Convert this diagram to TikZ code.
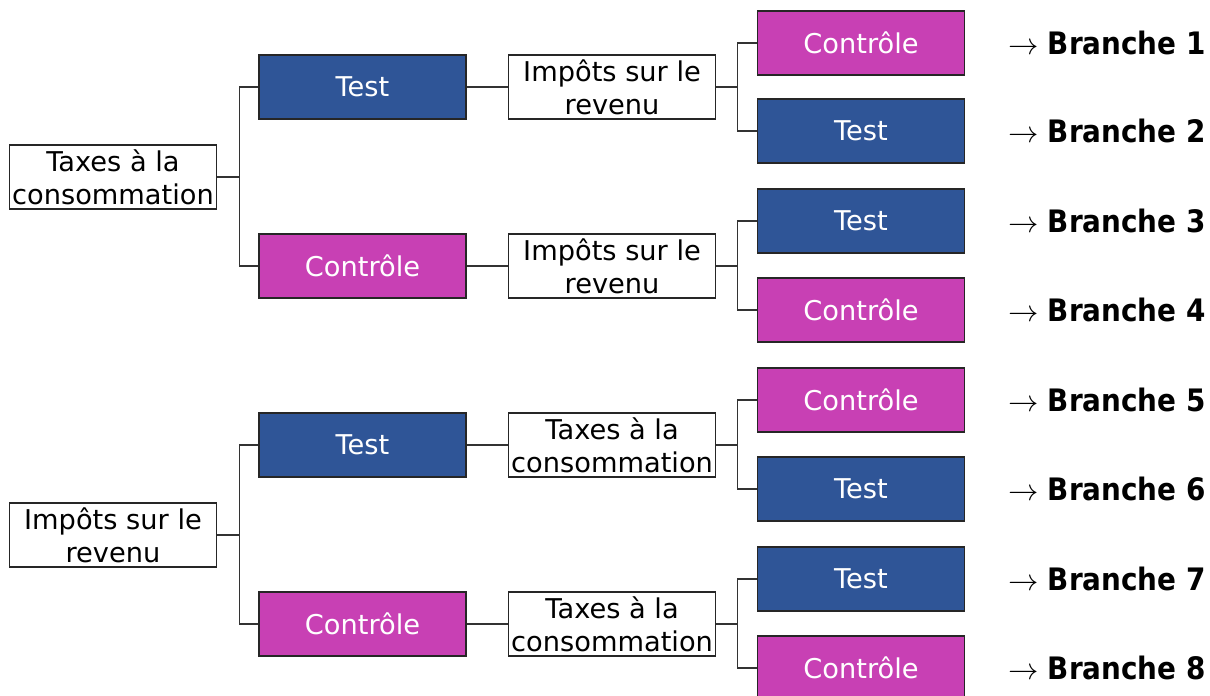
\documentclass[tikz,border=0pt]{standalone}
\usepackage{fontspec}
\setmainfont{DejaVu Sans}
\newfontfamily\branchfont{DejaVu Sans Condensed}
\usepackage{xcolor}
\usepackage{tikz}
\usetikzlibrary{positioning}
\definecolor{testblue}{HTML}{2F5597}
\definecolor{ctrlpink}{HTML}{C840B4}
\definecolor{edge}{HTML}{333333}

\begin{document}
\begin{tikzpicture}[
    box/.style={rectangle, draw=black!85, line width=0.9pt, minimum width=4.14cm,
                minimum height=1.27cm, inner sep=1pt, align=center,
                font=\fontsize{15.5}{18.6}\selectfont},
    testbox/.style={box, fill=testblue, text=white},
    ctrlbox/.style={box, fill=ctrlpink, text=white},
    factbox/.style={box, fill=white, text=black},
    branch/.style={anchor=west, inner sep=0pt, font=\branchfont\fontsize{17.6}{20}\selectfont},
    link/.style={draw=edge, line width=0.85pt},
    node distance=0.82cm,
]
\useasboundingbox (0,0) rectangle (24.2,13.92);

% first order: consumption taxes
\node[factbox] (rootA) at (2.26,10.38) {Taxes à la\\consommation};
\node[testbox] (aT) at (7.25,12.18) {Test};
\node[ctrlbox] (aC) at (7.25,8.60) {Contrôle};
\node[factbox,right=of aT] (aTf) {Impôts sur le\\revenu};
\node[factbox,right=of aC] (aCf) {Impôts sur le\\revenu};

% second order: income tax
\node[factbox] (rootB) at (2.26,3.22) {Impôts sur le\\revenu};
\node[testbox] (bT) at (7.25,5.02) {Test};
\node[ctrlbox] (bC) at (7.25,1.44) {Contrôle};
\node[factbox,right=of bT] (bTf) {Taxes à la\\consommation};
\node[factbox,right=of bC] (bCf) {Taxes à la\\consommation};

% leaves
\node[ctrlbox] (l1) at (17.22,13.06) {Contrôle};
\node[testbox] (l2) at (17.22,11.30) {Test};
\node[testbox] (l3) at (17.22,9.50) {Test};
\node[ctrlbox] (l4) at (17.22,7.72) {Contrôle};
\node[ctrlbox] (l5) at (17.22,5.92) {Contrôle};
\node[testbox] (l6) at (17.22,4.14) {Test};
\node[testbox] (l7) at (17.22,2.34) {Test};
\node[ctrlbox] (l8) at (17.22,0.56) {Contrôle};

\foreach \i in {1,...,8}
  \node[branch,right=0.86cm of l\i] (b\i) {$\rightarrow$ \textbf{Branche \i}};

% connectors
\draw[link] (rootA.east) -- ++(0.44,0) |- (aT.west);
\draw[link] (rootA.east) -- ++(0.44,0) |- (aC.west);
\draw[link] (rootB.east) -- ++(0.44,0) |- (bT.west);
\draw[link] (rootB.east) -- ++(0.44,0) |- (bC.west);
\draw[link] (aT) -- (aTf);
\draw[link] (aC) -- (aCf);
\draw[link] (bT) -- (bTf);
\draw[link] (bC) -- (bCf);
\draw[link] (aTf.east) -- ++(0.42,0) |- (l1.west);
\draw[link] (aTf.east) -- ++(0.42,0) |- (l2.west);
\draw[link] (aCf.east) -- ++(0.42,0) |- (l3.west);
\draw[link] (aCf.east) -- ++(0.42,0) |- (l4.west);
\draw[link] (bTf.east) -- ++(0.42,0) |- (l5.west);
\draw[link] (bTf.east) -- ++(0.42,0) |- (l6.west);
\draw[link] (bCf.east) -- ++(0.42,0) |- (l7.west);
\draw[link] (bCf.east) -- ++(0.42,0) |- (l8.west);

\end{tikzpicture}
\end{document}
